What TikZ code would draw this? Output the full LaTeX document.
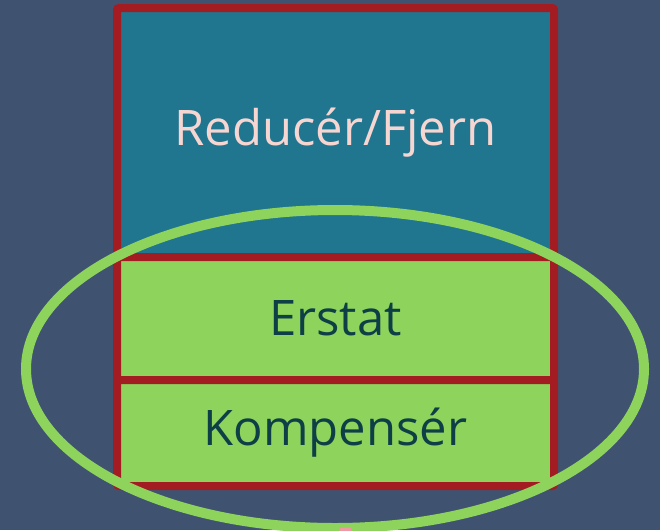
\documentclass[tikz,border=0pt]{standalone}
\usepackage{fontspec}
\setmainfont{Open Sans}
\usetikzlibrary{positioning,shapes.geometric}

\definecolor{slatebg}{HTML}{3F5370}
\definecolor{boxblue}{HTML}{20758F}
\definecolor{boxred}{HTML}{A31C22}
\definecolor{boxgreen}{HTML}{8DD35C}
\definecolor{textdark}{HTML}{0F3F46}
\definecolor{textpink}{HTML}{F7D6D2}
\definecolor{tippink}{HTML}{EF9AA2}

\begin{document}
\begin{tikzpicture}[x=1pt,y=-1pt]
\tikzstyle{every path}=[line width=8pt]

\tikzstyle{layer}=[draw=boxred,rounded corners=2pt,minimum width=437pt,
  inner sep=0pt,outer sep=0pt,font=\fontsize{49}{56}\selectfont]
\tikzstyle{ring}=[draw=boxgreen,line width=10pt,ellipse,inner sep=0pt]

%% Background
\fill[slatebg] (0,0) rectangle (660,530);
\useasboundingbox (0,0) rectangle (660,530);

%% Draw layers
\node [layer,fill=boxblue,text=textpink,minimum height=249pt]
  (reduce) at (335.5,132.5) {Reducér/Fjern};
\node [layer,fill=boxgreen,text=textdark,minimum height=123pt,
  below=0pt of reduce] (replace) {Erstat};
\node [layer,fill=boxgreen,text=textdark,minimum height=106pt,
  below=0pt of replace] (compensate) {Kompensér};

%% Ring round the lower layers
\node [ring,minimum width=618pt,minimum height=318pt] (circle) at (335,369) {};

%% Tip showing below
\coordinate (tip) at (345.5,531);
\fill [tippink] ([xshift=-5.5pt,yshift=3.5pt]tip) rectangle ([xshift=5.5pt]tip);
\end{tikzpicture}
\end{document}
